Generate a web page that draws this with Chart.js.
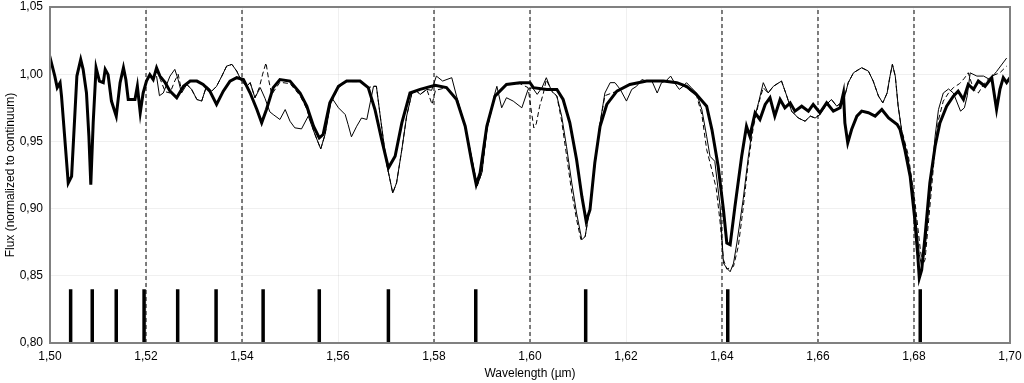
<!DOCTYPE html>
<html>
<head>
<meta charset="utf-8">
<script src="https://cdn.jsdelivr.net/npm/chart.js@4.4.1/dist/chart.umd.min.js"></script>
<style>
  html, body { margin: 0; padding: 0; background: #ffffff; }
  #wrap { width: 1024px; height: 383px; }
</style>
</head>
<body>
<div id="wrap"><canvas id="c" width="1024" height="383"></canvas></div>
<script>
// ---------- DATA ----------
const obsWave = [1.5000,1.5002,1.5010,1.5015,1.5021,1.5024,1.5038,1.5045,1.5056,1.5064,1.5069,1.5076,1.5081,1.5085,1.5090,1.5096,1.5103,1.5111,1.5115,1.5121,1.5128,1.5138,1.5146,1.5153,1.5158,1.5163,1.5177,1.5182,1.5188,1.5194,1.5201,1.5208,1.5215,1.5222,1.5229,1.5240,1.5250,1.5264,1.5278,1.5292,1.5306,1.5319,1.5333,1.5347,1.5361,1.5375,1.5389,1.5403,1.5417,1.5431,1.5441,1.5451,1.5465,1.5479,1.5500,1.5521,1.5535,1.5549,1.5561,1.5569,1.5583,1.5601,1.5618,1.5646,1.5663,1.5677,1.5691,1.5705,1.5719,1.5733,1.5750,1.5771,1.5802,1.5826,1.5847,1.5865,1.5879,1.5888,1.5896,1.5910,1.5927,1.5951,1.5979,1.6000,1.6007,1.6035,1.6056,1.6069,1.6083,1.6097,1.6108,1.6117,1.6125,1.6135,1.6146,1.6160,1.6181,1.6208,1.6243,1.6278,1.6306,1.6326,1.6347,1.6368,1.6379,1.6392,1.6403,1.6410,1.6417,1.6427,1.6441,1.6451,1.6458,1.6469,1.6479,1.6490,1.6500,1.6510,1.6521,1.6531,1.6542,1.6552,1.6566,1.6580,1.6590,1.6604,1.6618,1.6632,1.6646,1.6653,1.6656,1.6662,1.6670,1.6681,1.6691,1.6705,1.6719,1.6733,1.6747,1.6765,1.6771,1.6781,1.6792,1.6801,1.6808,1.6811,1.6816,1.6823,1.6833,1.6844,1.6854,1.6868,1.6882,1.6892,1.6903,1.6913,1.6924,1.6934,1.6948,1.6962,1.6972,1.6979,1.6986,1.6993,1.7000];
const obsFlux = [1.009,1.0098,0.9986,0.990,0.9937,0.9837,0.919,0.924,0.9986,1.011,1.0036,0.986,0.954,0.9178,0.964,1.0048,0.9949,0.9937,1.0036,0.9997,0.980,0.9688,0.9937,1.0048,0.996,0.9812,0.9812,0.991,0.9713,0.986,0.9949,0.9997,0.996,1.0048,0.9986,0.9937,0.9874,0.9825,0.991,0.9949,0.9949,0.9924,0.9874,0.9775,0.9874,0.9949,0.9974,0.996,0.986,0.9737,0.9638,0.9737,0.990,0.996,0.9949,0.986,0.9762,0.9613,0.9526,0.9551,0.9787,0.991,0.9949,0.9949,0.990,0.9737,0.9513,0.9303,0.9389,0.9638,0.986,0.9887,0.9917,0.990,0.9812,0.9613,0.934,0.9178,0.9265,0.9613,0.9837,0.9924,0.9937,0.9937,0.990,0.9887,0.9887,0.9812,0.9638,0.9365,0.9091,0.8905,0.8992,0.934,0.9613,0.9775,0.9874,0.9924,0.9949,0.9949,0.9937,0.991,0.9849,0.9762,0.9588,0.9315,0.8992,0.8744,0.8731,0.9017,0.9389,0.9613,0.9539,0.9713,0.9663,0.9775,0.9825,0.9688,0.9812,0.975,0.9787,0.9725,0.9762,0.9725,0.9775,0.9713,0.9787,0.9725,0.975,0.986,0.9638,0.9489,0.9588,0.9688,0.9725,0.9713,0.9688,0.9737,0.9674,0.9626,0.9588,0.9439,0.924,0.8942,0.8644,0.8482,0.8544,0.8793,0.9191,0.9464,0.9638,0.9762,0.9837,0.9874,0.9812,0.9924,0.9887,0.9949,0.991,0.9974,0.9737,0.9887,0.9974,0.9937,0.9974];

const modelAWave = [1.5222,1.5228,1.5236,1.5250,1.5260,1.5267,1.5274,1.5285,1.5295,1.5306,1.5316,1.5326,1.5337,1.5347,1.5358,1.5368,1.5379,1.5389,1.5399,1.5410,1.5417,1.5427,1.5438,1.5448,1.5458,1.5465,1.5479,1.5490,1.5500,1.5510,1.5524,1.5538,1.5552,1.5564,1.5573,1.5587,1.5601,1.5615,1.5621,1.5628,1.5639,1.5649,1.5660,1.5667,1.5674,1.5680,1.5688,1.5701,1.5714,1.5722,1.5733,1.5743,1.5754,1.5764,1.5771,1.5785,1.5795,1.5805,1.5818,1.5837,1.5847,1.5865,1.5879,1.5890,1.5900,1.5910,1.5927,1.5931,1.5941,1.5951,1.5965,1.5983,1.5996,1.6005,1.6015,1.6025,1.6034,1.6045,1.6056,1.6066,1.6076,1.6087,1.6097,1.6108,1.6115,1.6125,1.6135,1.6146,1.6156,1.6167,1.6177,1.6188,1.6201,1.6212,1.6222,1.6233,1.6243,1.6254,1.6265,1.6274,1.6283,1.6293,1.6301,1.6311,1.6319,1.6326,1.6336,1.6347,1.6358,1.6368,1.6375,1.6385,1.6396,1.6403,1.6410,1.6417,1.6424,1.6431,1.6444,1.6455,1.6465,1.6476,1.6486,1.6496,1.6507,1.6524,1.6535,1.6545,1.6559,1.6573,1.6584,1.6594,1.6604,1.6618,1.6628,1.6639,1.6653,1.6663,1.6674,1.6691,1.6705,1.6715,1.6726,1.6735,1.6744,1.6750,1.6755,1.6761,1.6767,1.6774,1.6788,1.6802,1.6811,1.6816,1.6823,1.6834,1.6844,1.6851,1.6861,1.6872,1.6882,1.6897,1.6905,1.6911,1.6917,1.6931,1.6945,1.6958,1.6972,1.6993];
const modelAFlux = [0.9986,0.984,0.986,0.9986,1.0036,0.996,0.986,0.9924,0.9887,0.9812,0.980,0.991,0.9874,0.991,0.9986,1.006,1.0073,1.0023,0.9949,0.991,0.9937,0.9825,0.990,0.982,0.972,0.970,0.9663,0.9737,0.965,0.9601,0.9593,0.9688,0.9551,0.9444,0.9551,0.9825,0.975,0.970,0.9626,0.9534,0.9613,0.9674,0.9663,0.9787,0.991,0.991,0.9688,0.934,0.9116,0.9191,0.9439,0.9688,0.986,0.9874,0.9849,0.9887,0.988,0.9986,0.9949,0.9974,0.9837,0.9613,0.937,0.917,0.927,0.958,0.986,0.991,0.975,0.9825,0.980,0.975,0.9887,0.990,0.985,0.990,0.9974,0.9874,0.9837,0.9688,0.9464,0.9191,0.8967,0.8768,0.8793,0.9017,0.9315,0.9638,0.986,0.9937,0.9937,0.9887,0.980,0.9887,0.991,0.996,0.9949,0.9949,0.986,0.9937,0.9949,0.9986,0.9937,0.9887,0.991,0.9937,0.990,0.986,0.9737,0.9539,0.9389,0.9352,0.9017,0.8594,0.8557,0.853,0.8594,0.8744,0.9066,0.9389,0.9638,0.9787,0.9937,0.986,0.991,0.9949,0.9837,0.9725,0.9674,0.965,0.9688,0.9674,0.970,0.9775,0.9812,0.9762,0.980,0.9937,1.0011,1.0048,1.0023,0.9949,0.9837,0.9787,0.986,0.9986,1.0073,0.9986,0.9762,0.9588,0.9365,0.8992,0.866,0.8569,0.8693,0.9141,0.9539,0.9737,0.986,0.989,0.986,0.9725,0.975,0.984,1.001,0.9986,0.9986,0.996,1.002,1.012];

const modelBWave = [1.5222,1.5230,1.5240,1.5250,1.5260,1.5267,1.5274,1.5285,1.5295,1.5306,1.5316,1.5326,1.5337,1.5347,1.5358,1.5368,1.5379,1.5389,1.5399,1.5410,1.5417,1.5427,1.5436,1.5443,1.5450,1.5456,1.5462,1.5479,1.5500,1.5521,1.5535,1.5549,1.5564,1.5573,1.5583,1.5601,1.5618,1.5646,1.5663,1.5674,1.5680,1.5688,1.5701,1.5714,1.5722,1.5733,1.5743,1.5754,1.5764,1.5771,1.5785,1.5796,1.5803,1.5826,1.5847,1.5865,1.5879,1.5890,1.5900,1.5910,1.5927,1.5951,1.5979,1.5996,1.6003,1.6008,1.6013,1.6020,1.6028,1.6034,1.6045,1.6056,1.6066,1.6076,1.6087,1.6097,1.6106,1.6115,1.6125,1.6135,1.6146,1.6156,1.6181,1.6208,1.6243,1.6278,1.6306,1.6326,1.6347,1.6358,1.6368,1.6378,1.6388,1.6396,1.6403,1.6410,1.6424,1.6434,1.6444,1.6455,1.6465,1.6476,1.6486,1.6496,1.6507,1.6524,1.6535,1.6545,1.6559,1.6573,1.6584,1.6594,1.6604,1.6618,1.6628,1.6639,1.6653,1.6663,1.6674,1.6691,1.6705,1.6715,1.6726,1.6735,1.6744,1.6750,1.6755,1.6761,1.6767,1.6774,1.6788,1.6802,1.6813,1.6818,1.6823,1.6834,1.6844,1.6851,1.6861,1.6872,1.6882,1.6895,1.6905,1.6913,1.6924,1.6934,1.6948,1.6962,1.6979,1.6993];
const modelBFlux = [1.003,0.996,0.987,0.986,0.995,1.000,0.988,0.9924,0.9887,0.9812,0.980,0.991,0.9874,0.991,0.9986,1.006,1.0073,1.0023,0.9949,0.991,0.9937,0.9825,0.990,1.000,1.0085,0.995,0.985,0.994,0.993,0.984,0.974,0.958,0.9444,0.955,0.977,0.990,0.9945,0.9945,0.990,0.991,0.991,0.9688,0.934,0.9116,0.9191,0.9439,0.9688,0.986,0.9874,0.9849,0.9887,0.9775,0.988,0.990,0.981,0.9613,0.937,0.917,0.927,0.958,0.984,0.992,0.993,0.990,0.972,0.960,0.963,0.976,0.986,0.996,0.9874,0.9837,0.965,0.940,0.912,0.892,0.877,0.8793,0.9017,0.9315,0.9638,0.984,0.9874,0.9924,0.9949,0.9949,0.9937,0.990,0.984,0.970,0.944,0.930,0.915,0.890,0.862,0.855,0.857,0.872,0.900,0.935,0.960,0.978,0.990,0.986,0.991,0.9949,0.9837,0.9725,0.9674,0.965,0.9688,0.9674,0.970,0.9775,0.9812,0.9762,0.980,0.9937,1.0011,1.0048,1.0023,0.9949,0.9837,0.9787,0.986,0.9986,1.0073,0.9986,0.9762,0.9588,0.940,0.905,0.870,0.858,0.862,0.905,0.945,0.966,0.980,0.986,0.990,0.993,0.997,1.0011,0.9887,0.986,0.994,0.9986,1.0011,1.006];

const lineWave = [1.5043,1.5088,1.5138,1.5196,1.5266,1.5346,1.5444,1.5561,1.5705,1.5887,1.6116,1.6412,1.6813];
const lineTop = 0.84;
const refWave = [1.52,1.54,1.58,1.60,1.64,1.66,1.68];

const xTicks = { min: 1.50, max: 1.70, step: 0.02 };
const yTicks = { min: 0.80, max: 1.05, step: 0.05 };
const xTitle = 'Wavelength (\u00b5m)';
const yTitle = 'Flux (normalized to continuum)';

// ---------- BUILD ----------
const zip = (xs, ys) => xs.map((x, i) => ({ x: x, y: ys[i] }));
const barPts = [];
lineWave.forEach(w => { barPts.push({x: w, y: yTicks.min}, {x: w, y: lineTop}, {x: w, y: null}); });
const refPts = [];
refWave.forEach(w => { refPts.push({x: w, y: yTicks.min}, {x: w, y: yTicks.max}, {x: w, y: null}); });

const fmt = v => Number(v).toFixed(2).replace('.', ',');
const FONT = "'Liberation Sans', Arial, Helvetica, sans-serif";

const framePlugin = {
  id: 'frame',
  afterDatasetsDraw(chart) {
    const { ctx, chartArea: a } = chart;
    ctx.save();
    ctx.strokeStyle = '#808080';
    ctx.lineWidth = 2;
    ctx.strokeRect(a.left, a.top, a.right - a.left, a.bottom - a.top);
    ctx.restore();
  }
};

new Chart(document.getElementById('c'), {
  type: 'line',
  data: {
    datasets: [
      { label: 'observed', data: zip(obsWave, obsFlux), borderColor: '#000', borderWidth: 3, pointRadius: 0, tension: 0 },
      { label: 'model 1', data: zip(modelAWave, modelAFlux), borderColor: '#000', borderWidth: 1, pointRadius: 0, tension: 0 },
      { label: 'model 2', data: zip(modelBWave, modelBFlux), borderColor: '#000', borderWidth: 1, borderDash: [5, 3], pointRadius: 0, tension: 0 },
      { label: 'lines', data: barPts, borderColor: '#000', borderWidth: 3.5, pointRadius: 0, spanGaps: false, borderCapStyle: 'butt' },
      { label: 'ref', data: refPts, borderColor: '#000', borderWidth: 1, borderDash: [4, 3], pointRadius: 0, spanGaps: false }
    ]
  },
  options: {
    responsive: false,
    animation: false,
    events: [],
    layout: { padding: { top: 7, right: 14, left: 0, bottom: 0 } },
    plugins: { legend: { display: false }, tooltip: { enabled: false } },
    scales: {
      x: {
        type: 'linear',
        min: xTicks.min, max: xTicks.max,
        border: { display: false },
        grid: { color: 'rgba(0,0,0,0.06)', drawTicks: false, lineWidth: 1 },
        ticks: { stepSize: xTicks.step, callback: v => fmt(v), color: '#000', font: { family: FONT, size: 12 }, padding: 6, maxRotation: 0, autoSkip: false },
        title: { display: true, text: xTitle, color: '#000', font: { family: FONT, size: 12 }, padding: { top: 0, bottom: 2 } },
        afterFit: s => { s.height = 40; s.paddingLeft = 0; s.paddingRight = 0; }
      },
      y: {
        min: yTicks.min, max: yTicks.max,
        border: { display: false },
        grid: { color: 'rgba(0,0,0,0.06)', drawTicks: false, lineWidth: 1 },
        ticks: { stepSize: yTicks.step, callback: v => fmt(v), color: '#000', font: { family: FONT, size: 12 }, padding: 7 },
        title: { display: true, text: yTitle, color: '#000', font: { family: FONT, size: 12 }, padding: { top: 3, bottom: 0 } },
        afterFit: s => { s.width = 50; s.paddingTop = 0; s.paddingBottom = 0; }
      }
    }
  },
  plugins: [framePlugin]
});
</script>
</body>
</html>
